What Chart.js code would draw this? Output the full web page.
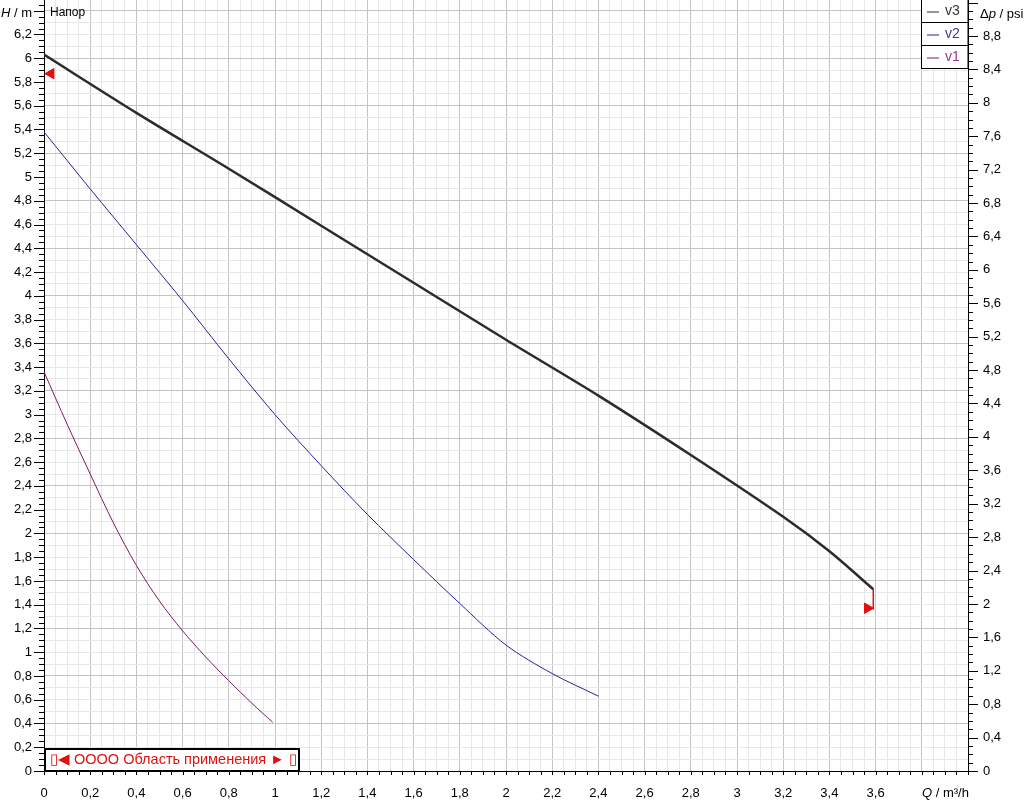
<!DOCTYPE html>
<html>
<head>
<meta charset="utf-8">
<script src="https://cdn.jsdelivr.net/npm/chart.js@4.4.0/dist/chart.umd.min.js"></script>
<style>
  html, body { margin: 0; padding: 0; background: #fff; }
  #pumpChart { display: block; }
</style>
</head>
<body>
<canvas id="pumpChart" width="1024" height="800"></canvas>
<script>
// pump curves, Q in m3/h, H in m
const qV3 = [0, 0.4, 0.8, 1.2, 1.6, 2.0, 2.4, 2.8, 3.2, 3.4, 3.59];
const hV3 = [6.03, 5.54, 5.07, 4.59, 4.11, 3.63, 3.16, 2.66, 2.14, 1.85, 1.53];
const qV2 = [0, 0.2, 0.4, 0.6, 0.8, 1.0, 1.2, 1.4, 1.6, 1.8, 2.0, 2.2, 2.4];
const hV2 = [5.38, 4.90, 4.43, 3.96, 3.47, 3.0, 2.57, 2.16, 1.78, 1.41, 1.06, 0.82, 0.63];
const qV1 = [0, 0.1, 0.2, 0.3, 0.4, 0.5, 0.6, 0.7, 0.8, 0.9, 0.99];
const hV1 = [3.36, 2.92, 2.50, 2.09, 1.73, 1.43, 1.18, 0.96, 0.76, 0.57, 0.41];

// range limit marks
const limitQ = [3.59, 3.59];
const limitH = [1.53, 1.36];
const leftMarkQ = [0.03];
const leftMarkH = [5.87];
const rightMarkQ = [3.565];
const rightMarkH = [1.37];

const seriesNames = ['v3', 'v2', 'v1'];
const rangeText = '▯◀ OOOO Область применения ► ▯';
const xMax = 4, yMax = 6.49;
const PSI_PER_M = 1.42233;

const FONT = 'Liberation Sans, Arial, sans-serif';
const lineColors = ['#2b2b2b', '#22229a', '#7a1a66'];
const textColors = ['#333333', '#3a3a8c', '#993399'];

const pts = (qs, hs) => qs.map((q, i) => ({ x: q, y: hs[i] }));
const isMult = (v, step) => Math.abs(v / step - Math.round(v / step)) < 1e-6;
const fmt = v => String(Number(v.toFixed(2))).replace('.', ',');
const stepTicks = (max, step) => {
  const out = [];
  for (let i = 0; i * step <= max + 1e-9; i++) out.push({ value: +(i * step).toFixed(4) });
  return out;
};
const noPad = s => { s.paddingTop = 0; s.paddingBottom = 0; s.paddingLeft = 0; s.paddingRight = 0; };

// axis tick marks, axis titles and the two boxes
const decorations = {
  id: 'decorations',
  afterDraw(chart) {
    const c = chart.ctx;
    const { x, y, y2 } = chart.scales;
    const area = chart.chartArea;
    c.save();
    c.strokeStyle = '#000';
    c.lineWidth = 1;
    c.beginPath();
    x.ticks.forEach(t => {
      const px = Math.round(x.getPixelForValue(t.value)) + 0.5;
      c.moveTo(px, area.bottom); c.lineTo(px, area.bottom + 4);
    });
    y.ticks.forEach(t => {
      const py = Math.round(y.getPixelForValue(t.value)) + 0.5;
      const len = isMult(t.value, 0.2) ? 10 : 5;
      c.moveTo(area.left, py); c.lineTo(area.left - len, py);
    });
    y2.ticks.forEach(t => {
      const py = Math.round(y2.getPixelForValue(t.value)) + 0.5;
      const len = isMult(t.value, 0.4) ? 10 : 5;
      c.moveTo(area.right, py); c.lineTo(area.right + len, py);
    });
    c.stroke();

    // axis titles with italic symbol
    const drawParts = (parts, px, py, align) => {
      c.textBaseline = 'middle';
      c.textAlign = 'left';
      const widths = parts.map(p => { c.font = p[1] + ' 13px ' + FONT; return c.measureText(p[0]).width; });
      const total = widths.reduce((a, b) => a + b, 0);
      let cx = align === 'right' ? px - total : px;
      parts.forEach((p, i) => {
        c.font = p[1] + ' 13px ' + FONT;
        c.fillStyle = '#000';
        c.fillText(p[0], cx, py);
        cx += widths[i];
      });
    };
    drawParts([['H', 'italic'], [' / m', 'normal']], 32, 13, 'right');
    drawParts([['Δ', 'normal'], ['p', 'italic'], [' / psi', 'normal']], 980, 14, 'left');
    drawParts([['Q', 'italic'], [' / m³/h', 'normal']], 922, 793, 'left');

    c.font = '12px ' + FONT;
    c.fillStyle = '#000';
    c.textAlign = 'left';
    c.textBaseline = 'middle';
    c.fillText('Напор', 50, 13);

    // series legend, top right
    const lx = 921.5, rowH = 23;
    chart.data.datasets.slice(0, 3).forEach((ds, i) => {
      const top = i * rowH - 0.5;
      c.fillStyle = '#fff';
      c.fillRect(lx, top, area.right - lx, rowH);
      c.strokeStyle = '#000';
      c.lineWidth = 1;
      c.strokeRect(lx, top, area.right - lx, rowH);
      c.strokeStyle = lineColors[i];
      c.beginPath();
      c.moveTo(927, top + 12.5); c.lineTo(939, top + 12.5);
      c.stroke();
      c.font = '14px ' + FONT;
      c.fillStyle = textColors[i];
      c.textBaseline = 'middle';
      c.fillText(ds.label, 945, top + 12);
    });

    // application range box, bottom left
    c.fillStyle = '#fff';
    c.fillRect(area.left, 748, 255, area.bottom - 748);
    c.strokeStyle = '#000';
    c.lineWidth = 2;
    c.strokeRect(area.left + 1, 749, 254, area.bottom - 749);
    c.font = '14.5px ' + FONT;
    c.fillStyle = '#e01010';
    c.textBaseline = 'middle';
    c.fillText(rangeText, 50, 760);
    c.restore();
  }
};

new Chart(document.getElementById('pumpChart').getContext('2d'), {
  type: 'line',
  data: {
    datasets: [
      { label: seriesNames[0], data: pts(qV3, hV3), borderColor: lineColors[0], borderWidth: 2.5 },
      { label: seriesNames[1], data: pts(qV2, hV2), borderColor: lineColors[1], borderWidth: 1 },
      { label: seriesNames[2], data: pts(qV1, hV1), borderColor: lineColors[2], borderWidth: 1 },
      { label: 'limit', data: pts(limitQ, limitH), borderColor: '#e01010', borderWidth: 1.5, tension: 0 },
      { label: 'min', data: pts(leftMarkQ, leftMarkH), showLine: false, pointRadius: 6,
        pointStyle: 'triangle', rotation: -90, backgroundColor: '#e01010', borderColor: '#e01010' },
      { label: 'max', data: pts(rightMarkQ, rightMarkH), showLine: false, pointRadius: 6,
        pointStyle: 'triangle', rotation: 90, backgroundColor: '#e01010', borderColor: '#e01010' }
    ]
  },
  options: {
    responsive: false,
    animation: false,
    layout: { padding: 0, autoPadding: false },
    elements: {
      line: { tension: 0.3, fill: false },
      point: { radius: 0 }
    },
    plugins: {
      legend: { display: false },
      tooltip: { enabled: false }
    },
    scales: {
      x: {
        type: 'linear', position: 'bottom', min: 0, max: xMax,
        afterBuildTicks: s => { s.ticks = stepTicks(xMax, 0.05); },
        afterFit: s => { s.height = 29; noPad(s); },
        ticks: {
          autoSkip: false, maxRotation: 0, padding: 15, color: '#000',
          font: { family: FONT, size: 13 },
          callback: v => (isMult(v, 0.2) && v < 3.7) ? fmt(v) : ''
        },
        grid: {
          drawTicks: false,
          color: ctx => isMult(ctx.tick.value, 0.2) ? '#c4c4c4' : '#e8e8e8'
        },
        border: { color: '#000', width: 1 }
      },
      y: {
        type: 'linear', position: 'left', min: 0, max: yMax,
        afterBuildTicks: s => { s.ticks = stepTicks(yMax, 0.05); },
        afterFit: s => { s.width = 44; noPad(s); },
        ticks: {
          autoSkip: false, padding: 12, color: '#000',
          font: { family: FONT, size: 13 },
          callback: v => (isMult(v, 0.2) && v < 6.3) ? fmt(v) : ''
        },
        grid: {
          drawTicks: false,
          color: ctx => isMult(ctx.tick.value, 0.4) ? '#c4c4c4'
            : (isMult(ctx.tick.value, 0.1) ? '#e8e8e8' : 'rgba(0,0,0,0)')
        },
        border: { color: '#000', width: 1 }
      },
      y2: {
        type: 'linear', position: 'right', min: 0, max: yMax * PSI_PER_M,
        afterBuildTicks: s => { s.ticks = stepTicks(yMax * PSI_PER_M, 0.1); },
        afterFit: s => { s.width = 56; noPad(s); },
        ticks: {
          autoSkip: false, padding: 15, color: '#000',
          font: { family: FONT, size: 13 },
          callback: v => (isMult(v, 0.4) && v < 9) ? fmt(v) : ''
        },
        grid: { drawOnChartArea: false, drawTicks: false },
        border: { color: '#000', width: 1 }
      }
    }
  },
  plugins: [decorations]
});
</script>
</body>
</html>
